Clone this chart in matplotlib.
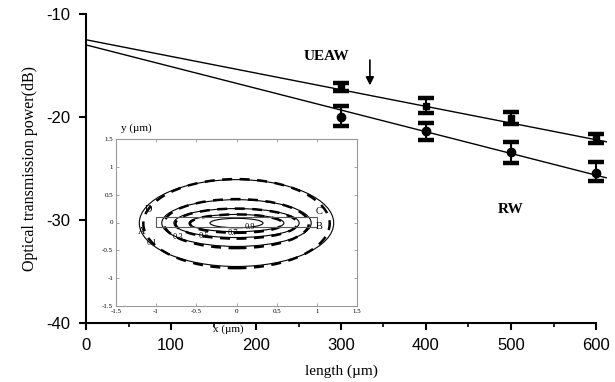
import numpy as np
import matplotlib
matplotlib.use('Agg')
import matplotlib.pyplot as plt
from matplotlib.patches import Ellipse, Rectangle

plt.rcParams['axes.unicode_minus'] = False

lengths = [300, 400, 500, 600]
ueaw_power = [-17.1, -18.9, -20.1, -22.1]
ueaw_err_lo = [0.4, 0.7, 0.6, 0.45]
ueaw_err_hi = [0.4, 0.7, 0.6, 0.45]
rw_power = [-20.0, -21.4, -23.4, -25.4]
rw_err_lo = [0.9, 0.8, 1.1, 0.8]
rw_err_hi = [1.1, 0.8, 1.0, 1.0]

# fitted lines (end points)
fit_x = [0, 612]
ueaw_fit = [-12.5, -22.4]
rw_fit = [-13.0, -25.9]

# inset: mode contours (half-axes in um)
contour_levels = ['0.1', '0.3', '0.5', '0.7', '0.9']
solid_half_w = [1.21, 0.93, 0.78, 0.59, 0.33]
solid_half_h = [0.78, 0.42, 0.26, 0.155, 0.085]
dashed_half_w = [1.16, 0.90, 0.76, 0.58]
dashed_half_h = [0.80, 0.44, 0.27, 0.165]
label_x = [-1.05, -0.73, -0.41, -0.04, 0.17]
label_y = [-0.37, -0.26, -0.25, -0.19, -0.08]
corner_names = ['D', 'C', 'A', 'B']
corner_x = [-1.1, 1.03, -1.18, 1.03]
corner_y = [0.24, 0.19, -0.17, -0.08]
inset_ticks = [-1.5, -1, -0.5, 0, 0.5, 1, 1.5]
inset_ticklabels = ['-1.5', '-1', '-0.5', '0', '0.5', '1', '1.5']

serif = ['Liberation Serif', 'DejaVu Serif']
sans = ['Liberation Sans', 'DejaVu Sans']

fig = plt.figure(figsize=(6.15, 3.82), dpi=100)
ax = fig.add_axes([86/615, 1-323/382, 510/615, 309/382])

ax.plot(fit_x, ueaw_fit, color='black', lw=1.0, clip_on=False)
ax.plot(fit_x, rw_fit, color='black', lw=1.0, clip_on=False)

ax.errorbar(lengths, ueaw_power, yerr=[ueaw_err_lo, ueaw_err_hi], fmt='s',
            color='black', ms=5, elinewidth=1.5, capsize=6, capthick=3.2, clip_on=False)
ax.errorbar(lengths, rw_power, yerr=[rw_err_lo, rw_err_hi], fmt='o',
            color='black', ms=6, elinewidth=1.5, capsize=6, capthick=3.2, clip_on=False)

ax.text(283, -14.1, 'UEAW', fontsize=11, fontweight='bold', family=serif,
        ha='center', va='center')
ax.annotate('', xy=(334, -17.2), xytext=(334, -14.2),
            arrowprops=dict(arrowstyle='-|>', color='black', lw=1.2,
                            mutation_scale=12))
ax.text(500, -29.0, 'RW', fontsize=11, fontweight='bold', family=serif,
        ha='center', va='center')

ax.set_xlim(0, 600)
ax.set_ylim(-40, -10)
ax.set_xticks([0, 100, 200, 300, 400, 500, 600])
ax.set_xticks([50, 150, 250, 350, 450, 550], minor=True)
ax.set_yticks([-40, -30, -20, -10])
ax.spines['top'].set_visible(False)
ax.spines['right'].set_visible(False)
ax.spines['left'].set_linewidth(1.5)
ax.spines['bottom'].set_linewidth(1.5)
ax.tick_params(which='major', length=5, width=1.5, labelsize=12, pad=6)
ax.tick_params(which='minor', length=3, width=1.2)
for lab in ax.get_xticklabels() + ax.get_yticklabels():
    lab.set_family(sans)
ax.set_xlabel('length (\u00b5m)', family=serif, fontsize=11, labelpad=8)
ax.set_ylabel('Optical transmission power(dB)', family=serif, fontsize=11.5, labelpad=6)

# inset
ins = fig.add_axes([116/615, 1-306/382, 241/615, 167/382])
for i in range(len(solid_half_w)):
    ins.add_patch(Ellipse((0, -0.01), 2*solid_half_w[i], 2*solid_half_h[i],
                          fill=False, ec='black', lw=0.8))
for i in range(len(dashed_half_w)):
    ins.add_patch(Ellipse((0, -0.02), 2*dashed_half_w[i], 2*dashed_half_h[i],
                          fill=False, ec='black', lw=1.8, ls=(0, (4, 3))))
ins.add_patch(Rectangle((-1.0, -0.08), 2.0, 0.18, fill=False, ec='0.35', lw=0.8))
for i in range(len(contour_levels)):
    ins.text(label_x[i], label_y[i], contour_levels[i], fontsize=6, family=serif,
             ha='center', va='center')
for i in range(len(corner_names)):
    ins.text(corner_x[i], corner_y[i], corner_names[i], fontsize=7.5, family=serif,
             ha='center', va='center')
ins.set_xlim(-1.5, 1.5)
ins.set_ylim(-1.5, 1.5)
ins.set_xticks(inset_ticks)
ins.set_xticklabels(inset_ticklabels)
ins.set_yticks(inset_ticks)
ins.set_yticklabels(inset_ticklabels)
ins.tick_params(direction='in', length=2, width=0.5, labelsize=5, pad=2,
                top=True, right=True, color='0.5')
for lab in ins.get_xticklabels() + ins.get_yticklabels():
    lab.set_family(serif)
for s in ins.spines.values():
    s.set_color('0.6')
    s.set_linewidth(0.8)
ins.patch.set_alpha(0.0)
ins.text(-1.25, 1.6, 'y (\u00b5m)', fontsize=8, family=serif, ha='center', va='bottom')
ins.text(-0.1, -1.92, 'x (\u00b5m)', fontsize=8, family=serif, ha='center', va='center')

fig.savefig('out.png', dpi=100)
